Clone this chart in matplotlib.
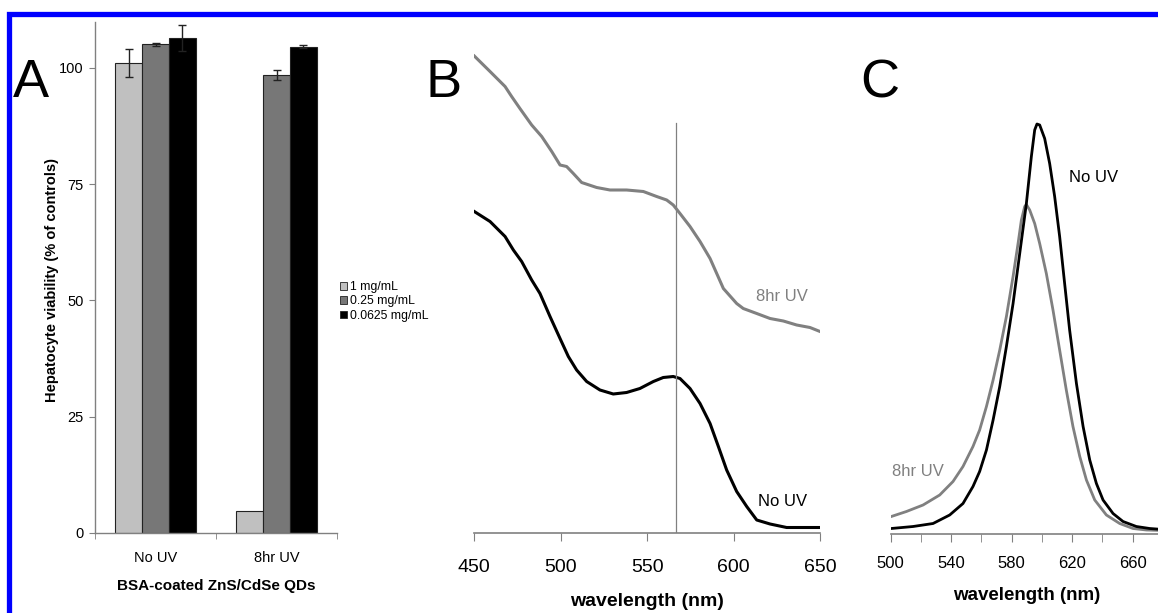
import matplotlib
matplotlib.use("Agg")
import matplotlib.pyplot as plt
from matplotlib.patches import Patch, Rectangle
import numpy as np

plt.rcParams['font.family'] = ['Liberation Sans', 'DejaVu Sans']

# ---------------- Data ----------------
groups = ["No UV", "8hr UV"]
conc_labels = ["1 mg/mL", "0.25 mg/mL", "0.0625 mg/mL"]
via_1mg = [101.0, 4.7]
via_025 = [105.1, 98.5]
via_00625 = [106.4, 104.6]
err_1mg = [3.0, 0.0]
err_025 = [0.3, 1.1]
err_00625 = [2.8, 0.3]

# Panel B: absorbance spectra
absB_uv_wl = [450, 459.1, 467.8, 471.6, 476.4, 483.2, 489.0, 494.8, 499.6, 503.4, 507.3, 512.1, 520.8,
              528.5, 538.1, 547.8, 555.5, 561.3, 565.1, 569.0, 574.8, 580.6, 586.4, 594.1, 601.8,
              605.6, 613.4, 621.1, 628.8, 636.5, 644.2, 650.0]
absB_uv = [0.954, 0.923, 0.893, 0.873, 0.849, 0.816, 0.793, 0.763, 0.736, 0.733, 0.719, 0.701, 0.691,
           0.686, 0.686, 0.683, 0.673, 0.666, 0.656, 0.639, 0.613, 0.583, 0.549, 0.489, 0.459,
           0.449, 0.439, 0.429, 0.424, 0.416, 0.411, 0.403]
absB_nouv_wl = [450, 459.1, 467.8, 472.6, 477.4, 483.2, 488.0, 493.8, 499.6, 504.4, 509.2, 515.0,
                522.7, 530.4, 538.1, 545.8, 553.6, 559.3, 565.1, 569.0, 574.8, 580.6, 586.4, 591.2,
                596.0, 601.8, 607.6, 613.4, 621.1, 630.7, 640.4, 650.0]
absB_nouv = [0.643, 0.623, 0.593, 0.566, 0.543, 0.506, 0.479, 0.433, 0.389, 0.353, 0.326, 0.303,
             0.286, 0.278, 0.281, 0.289, 0.303, 0.311, 0.313, 0.309, 0.289, 0.259, 0.219, 0.173,
             0.126, 0.083, 0.053, 0.026, 0.018, 0.011, 0.011, 0.011]
peak_wl = 566.7
peak_line_top = 0.82

# Panel C: photoluminescence spectra
plC_nouv_wl = [500.4, 514.8, 528.0, 539.0, 547.8, 554.4, 558.8, 563.3, 567.7, 572.1, 576.5, 580.9,
               585.3, 589.7, 593.0, 595.2, 596.7, 598.5, 601.8, 605.1, 608.4, 611.7, 615.0, 618.3,
               622.8, 627.2, 631.6, 636.0, 640.4, 647.0, 653.6, 662.4, 671.2, 680.0]
plC_nouv = [0.011, 0.015, 0.021, 0.038, 0.061, 0.095, 0.125, 0.168, 0.228, 0.295, 0.375, 0.461,
            0.561, 0.661, 0.755, 0.808, 0.820, 0.818, 0.791, 0.741, 0.675, 0.595, 0.501, 0.408,
            0.301, 0.215, 0.148, 0.101, 0.068, 0.041, 0.025, 0.015, 0.011, 0.009]
plC_uv_wl = [500.4, 510.4, 521.4, 532.4, 541.2, 547.8, 554.4, 558.8, 563.3, 567.7, 572.1, 576.5,
             580.9, 584.2, 586.4, 588.6, 589.7, 591.9, 595.2, 598.5, 602.9, 607.3, 611.7, 616.1,
             620.5, 625.0, 629.4, 634.9, 642.6, 651.4, 660.2, 669.0, 680.0]
plC_uv = [0.035, 0.045, 0.058, 0.078, 0.105, 0.135, 0.175, 0.208, 0.255, 0.308, 0.368, 0.435,
          0.515, 0.581, 0.628, 0.655, 0.659, 0.648, 0.621, 0.581, 0.521, 0.448, 0.368, 0.288,
          0.215, 0.155, 0.108, 0.068, 0.038, 0.021, 0.011, 0.008, 0.007]

# ---------------- Figure ----------------
W, H = 1158, 613
fig = plt.figure(figsize=(W / 100, H / 100), dpi=100)
fig.patch.set_facecolor("white")

def axes_px(l, t, r, b):
    return fig.add_axes([l / W, 1 - b / H, (r - l) / W, (b - t) / H])

GRAYAX = "#808080"

# ---- Panel A ----
axA = axes_px(95, 21.5, 337, 532.7)
x = np.arange(len(groups))
bw = 0.222
cols = ["#c0c0c0", "#777777", "#000000"]
for i, (vals, errs) in enumerate([(via_1mg, err_1mg), (via_025, err_025), (via_00625, err_00625)]):
    pos = x + (i - 1) * bw
    axA.bar(pos, vals, width=bw, color=cols[i], edgecolor="#222222", linewidth=0.8, zorder=2)
    e = np.array(errs)
    mask = e > 0
    axA.errorbar(pos[mask], np.array(vals)[mask], yerr=e[mask], fmt="none", ecolor="#222222",
                 elinewidth=1, capsize=3, capthick=1, zorder=3)
axA.set_xlim(-0.5, 1.5)
axA.set_ylim(0, 110)
axA.set_yticks([0, 25, 50, 75, 100])
axA.set_xticks(x)
axA.set_xticklabels(groups, fontsize=10.5)
axA.set_xticks([-0.5, 0.5, 1.5], minor=True)
axA.tick_params(axis="x", which="major", length=0, pad=13)
axA.tick_params(axis="x", which="minor", length=4, color=GRAYAX, direction="out")
axA.tick_params(axis="y", length=4, color=GRAYAX, labelsize=10.5, pad=4)
for s in ["top", "right"]:
    axA.spines[s].set_visible(False)
for s in ["left", "bottom"]:
    axA.spines[s].set_color(GRAYAX)
    axA.spines[s].set_linewidth(1)
axA.set_xlabel("BSA-coated ZnS/CdSe QDs", fontsize=11, fontweight="bold", labelpad=10)
fig.text(52 / W, 1 - 280 / H, "Hepatocyte viability (% of controls)", rotation=90,
         ha="center", va="center", fontsize=10.5, fontweight="bold")
handles = [Patch(facecolor=c, edgecolor="#222222", linewidth=0.6) for c in cols]
fig.legend(handles, conc_labels, loc="upper left", bbox_to_anchor=(340 / W, 1 - 281 / H),
           frameon=False, fontsize=8.8, handlelength=0.6, handleheight=0.6, handletextpad=0.2,
           labelspacing=0.2, borderpad=0, borderaxespad=0)

# ---- Panel B ----
axB = axes_px(474.3, 33, 820, 533)
axB.plot(absB_uv_wl, absB_uv, color="#808080", lw=2.2)
axB.plot(absB_nouv_wl, absB_nouv, color="#000000", lw=2.2)
axB.plot([peak_wl, peak_wl], [0, peak_line_top], color="#808080", lw=0.9)
axB.set_xlim(450, 650)
axB.set_ylim(0, 1.0)
axB.set_xticks([450, 500, 550, 600, 650])
axB.tick_params(axis="x", length=6, color=GRAYAX, labelsize=14, pad=13)
axB.set_yticks([])
for s in ["top", "right", "left"]:
    axB.spines[s].set_visible(False)
axB.spines["bottom"].set_color(GRAYAX)
axB.spines["bottom"].set_linewidth(1.2)
fig.text(647 / W, 1 - 601 / H, "wavelength (nm)", fontsize=14, fontweight="bold",
         ha="center", va="center")
axB.text(628, 0.472, "8hr UV", color="#808080", fontsize=12, ha="center", va="center")
axB.text(628.5, 0.062, "No UV", color="#000000", fontsize=12, ha="center", va="center")

# ---- Panel C ----
axC = axes_px(890.7, 34, 890.7 + 180 * 1.5125, 534)
axC.plot(plC_uv_wl, plC_uv, color="#808080", lw=2.0)
axC.plot(plC_nouv_wl, plC_nouv, color="#000000", lw=2.0)
axC.set_xlim(500, 680)
axC.set_ylim(0, 1.0)
axC.set_xticks([500, 540, 580, 620, 660])
axC.set_xticks(np.arange(500, 681, 20), minor=True)
axC.tick_params(axis="x", which="both", length=6, color=GRAYAX, labelsize=12, pad=10)
axC.set_yticks([])
for s in ["top", "right", "left"]:
    axC.spines[s].set_visible(False)
axC.spines["bottom"].set_color(GRAYAX)
axC.spines["bottom"].set_linewidth(1.2)
fig.text(1027 / W, 1 - 596 / H, "wavelength (nm)", fontsize=13.5, fontweight="bold",
         ha="center", va="center")
axC.text(633.8, 0.712, "No UV", color="#000000", fontsize=12, ha="center", va="center")
axC.text(518, 0.124, "8hr UV", color="#808080", fontsize=12, ha="center", va="center")

# ---- Panel letters ----
for lx, ch in [(31, "A"), (444, "B"), (880, "C")]:
    fig.text(lx / W, 1 - 83 / H, ch, fontsize=39, ha="center", va="center")

# ---- Blue frame ----
fig.patches.append(Rectangle((8.5 / W, -0.2), 2.0, 1.2 - 13.5 / H, transform=fig.transFigure,
                             fill=False, edgecolor="#0000ff", linewidth=3.8, figure=fig))

fig.savefig("out.png", dpi=100, facecolor="white")
